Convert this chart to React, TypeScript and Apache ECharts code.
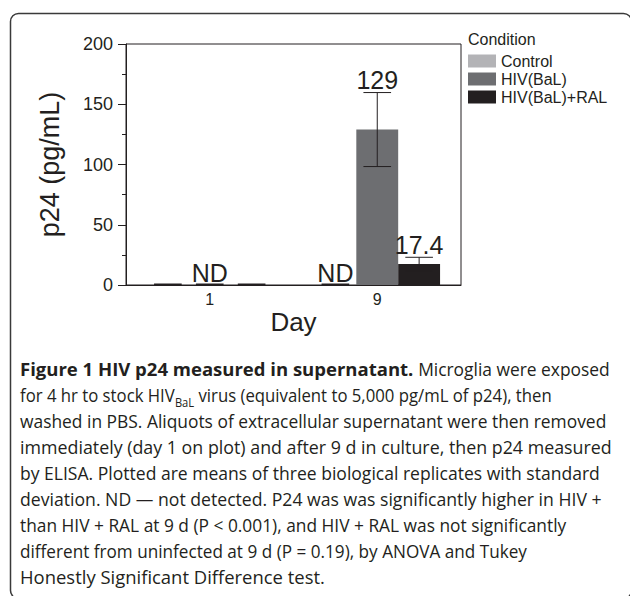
import React, { useEffect, useRef } from "react";
import * as echarts from "echarts";

const categories = ["1", "9"];
const seriesNames = ["Control", "HIV(BaL)", "HIV(BaL)+RAL"];
const seriesColors = ["#b3b3b6", "#6d6e71", "#231f20"];
const controlValues = [0, 0];
const hivValues = [0, 129];
const ralValues = [0, 17.4];
const controlSD = [0, 0];
const hivSD = [0, 30.7];
const ralSD = [0, 5.6];
// ND = not detected (drawn as a short line at zero)
const controlND = [true, true];
const hivND = [true, false];
const ralND = [true, false];
const controlLabels = ["", "ND"];
const hivLabels = ["ND", "129"];
const ralLabels = ["", "17.4"];
const yTicks = [0, 50, 100, 150, 200];

const captionLines: [string, string][][] = [
  [["b", "Figure 1 HIV p24 measured in supernatant."], ["n", " Microglia were exposed"]],
  [["n", "for 4 hr to stock HIV"], ["sub", "BaL"], ["n", " virus (equivalent to 5,000 pg/mL of p24), then"]],
  [["n", "washed in PBS. Aliquots of extracellular supernatant were then removed"]],
  [["n", "immediately (day 1 on plot) and after 9 d in culture, then p24 measured"]],
  [["n", "by ELISA. Plotted are means of three biological replicates with standard"]],
  [["n", "deviation. ND \u2014 not detected. P24 was was significantly higher in HIV +"]],
  [["n", "than HIV + RAL at 9 d (P < 0.001), and HIV + RAL was not significantly"]],
  [["n", "different from uninfected at 9 d (P = 0.19), by ANOVA and Tukey"]],
  [["n", "Honestly Significant Difference test."]],
];
// layout: approximate right end (px) of each caption line in the typeset figure
const captionLineEnds = [610, 552, 607, 612, 600, 602, 567, 527, 335];

const FONT = "'Liberation Sans', Arial, Helvetica, sans-serif";
const CAP_FONT = "'Open Sans', 'Noto Sans', sans-serif";
const DARK = "#231f20";

let _ctx: CanvasRenderingContext2D | null = null;
function measure(text: string, font: string): number {
  if (!_ctx) _ctx = document.createElement("canvas").getContext("2d");
  if (!_ctx) return text.length * 8;
  _ctx.font = font;
  return _ctx.measureText(text).width;
}

export default function App() {
  const ref = useRef<HTMLDivElement>(null);
  useEffect(() => {
    if (!ref.current) return;
    const chart = echarts.init(ref.current, undefined, { renderer: "svg" });

    const allValues = [controlValues, hivValues, ralValues];
    const allSD = [controlSD, hivSD, ralSD];
    const allND = [controlND, hivND, ralND];
    const allLabels = [controlLabels, hivLabels, ralLabels];

    const errData: any[] = [];
    categories.forEach((_, ci) => {
      for (let si = 0; si < 3; si++) {
        errData.push([ci, allValues[si][ci], allSD[si][ci], si, allND[si][ci] ? 1 : 0, allLabels[si][ci]]);
      }
    });

    // caption
    const capSize = 18;
    const subSize = 12;
    const capLeft = 20;
    const fontFor = (kind: string) =>
      kind === "b"
        ? `bold ${capSize}px ${CAP_FONT}`
        : kind === "sub"
        ? `${subSize}px ${CAP_FONT}`
        : `${capSize}px ${CAP_FONT}`;
    const normW = measure(captionLines[2][0][1], fontFor("n"));
    const sxNorm = 587 / normW;
    const restW = measure(captionLines[0][1][1], fontFor("n")) * sxNorm;
    const boldW = measure(captionLines[0][0][1], fontFor("b"));
    const sxBold = (captionLineEnds[0] - capLeft - restW) / boldW;
    const captionEls: any[] = [];
    captionLines.forEach((segs, li) => {
      const baseline = 376 + li * 26;
      let natural = 0;
      segs.forEach(([k, t]) => {
        const s = k === "b" ? sxBold : sxNorm;
        natural += measure(t, fontFor(k)) * s;
      });
      const target = captionLineEnds[li] - capLeft;
      const lineScale = Math.max(0.94, Math.min(1.06, target / natural));
      let x = capLeft;
      segs.forEach(([k, t]) => {
        const s = (k === "b" ? sxBold : sxNorm) * lineScale;
        captionEls.push({
          type: "text",
          x,
          y: k === "sub" ? baseline : baseline - 7,
          scaleX: s,
          style: {
            text: t,
            fill: DARK,
            fontFamily: CAP_FONT,
            fontSize: k === "sub" ? subSize : capSize,
            fontWeight: k === "b" ? "bold" : "normal",
            verticalAlign: "middle",
            align: "left",
          },
        });
        x += measure(t, fontFor(k)) * s;
      });
    });

    const option: any = {
      animation: false,
      textStyle: { fontFamily: FONT },
      grid: {
        left: 126,
        right: 169,
        top: 44,
        bottom: 311,
        show: true,
        borderColor: DARK,
        borderWidth: 1,
        outerBoundsMode: "none",
      },
      legend: {
        orient: "vertical",
        left: 468,
        top: 53,
        padding: 0,
        itemWidth: 28,
        itemHeight: 13,
        itemGap: 2,
        icon: "rect",
        data: seriesNames,
        textStyle: { fontSize: 16, color: DARK, fontFamily: FONT },
      },
      xAxis: {
        type: "category",
        data: categories,
        axisTick: { show: false },
        axisLine: { lineStyle: { color: DARK, width: 1 } },
        axisLabel: { fontSize: 16, color: DARK, margin: 6, fontFamily: FONT },
        name: "Day",
        nameLocation: "middle",
        nameGap: 24,
        nameTextStyle: { fontSize: 26, color: DARK, fontFamily: FONT },
      },
      yAxis: {
        type: "value",
        min: yTicks[0],
        max: yTicks[yTicks.length - 1],
        interval: yTicks[1] - yTicks[0],
        splitLine: { show: false },
        axisLine: { show: true, lineStyle: { color: DARK, width: 1 } },
        axisTick: { show: true, length: 8, lineStyle: { color: DARK } },
        minorTick: { show: true, splitNumber: 2, length: 4, lineStyle: { color: DARK } },
        axisLabel: { fontSize: 18, color: DARK, margin: 13, fontFamily: FONT },
        name: "p24 (pg/mL)",
        nameLocation: "middle",
        nameGap: 63,
        nameTextStyle: { fontSize: 27, color: DARK, fontFamily: FONT },
      },
      series: [
        ...seriesNames.map((n, i) => ({
          type: "bar",
          name: n,
          data: allValues[i],
          itemStyle: { color: seriesColors[i] },
          barGap: "0%",
          barCategoryGap: "25%",
        })),
        {
          type: "custom",
          name: "err",
          data: errData,
          z: 5,
          encode: { x: 0, y: 1 },
          renderItem: (params: any, api: any) => {
            const ci = api.value(0);
            const mean = api.value(1);
            const sd = api.value(2);
            const si = api.value(3);
            const nd = api.value(4);
            const label = errData[params.dataIndex][5];
            const band = api.size([1, 0])[0];
            const barW = band * 0.25;
            const cx = api.coord([ci, 0])[0] + (si - 1) * barW;
            const y0 = api.coord([ci, 0])[1];
            const half = barW * 0.33;
            const children: any[] = [];
            let topY = y0;
            if (nd) {
              children.push({
                type: "line",
                shape: { x1: cx - half, y1: y0 - 0.5, x2: cx + half, y2: y0 - 0.5 },
                style: { stroke: DARK, lineWidth: 2 },
              });
              topY = y0 - 1;
            } else if (sd > 0) {
              const yt = api.coord([ci, mean + sd])[1];
              const yb = api.coord([ci, mean - sd])[1];
              children.push(
                { type: "line", shape: { x1: cx, y1: yt, x2: cx, y2: yb }, style: { stroke: DARK, lineWidth: 1 } },
                { type: "line", shape: { x1: cx - half, y1: yt, x2: cx + half, y2: yt }, style: { stroke: DARK, lineWidth: 1 } },
                { type: "line", shape: { x1: cx - half, y1: yb, x2: cx + half, y2: yb }, style: { stroke: DARK, lineWidth: 1 } }
              );
              topY = yt - 1;
            }
            if (label) {
              children.push({
                type: "text",
                x: cx,
                y: topY + 1,
                style: {
                  text: label,
                  fill: DARK,
                  fontSize: 25,
                  fontFamily: FONT,
                  align: "center",
                  verticalAlign: "bottom",
                },
              });
            }
            return { type: "group", children };
          },
        },
      ],
      graphic: [
        {
          type: "rect",
          shape: { x: 10.5, y: 13.5, width: 621, height: 585, r: 8 },
          style: { fill: "none", stroke: "#3a3a3a", lineWidth: 1.5 },
          silent: true,
        },
        {
          type: "text",
          x: 468,
          y: 39,
          style: { text: "Condition", fill: DARK, fontSize: 16, fontFamily: FONT, verticalAlign: "middle" },
        },
        ...captionEls,
      ],
    };
    chart.setOption(option);
    return () => chart.dispose();
  }, []);
  return (
    <div
      ref={ref}
      style={{ position: "fixed", left: 0, top: 0, width: 630, height: 596, background: "#fff" }}
    />
  );
}
